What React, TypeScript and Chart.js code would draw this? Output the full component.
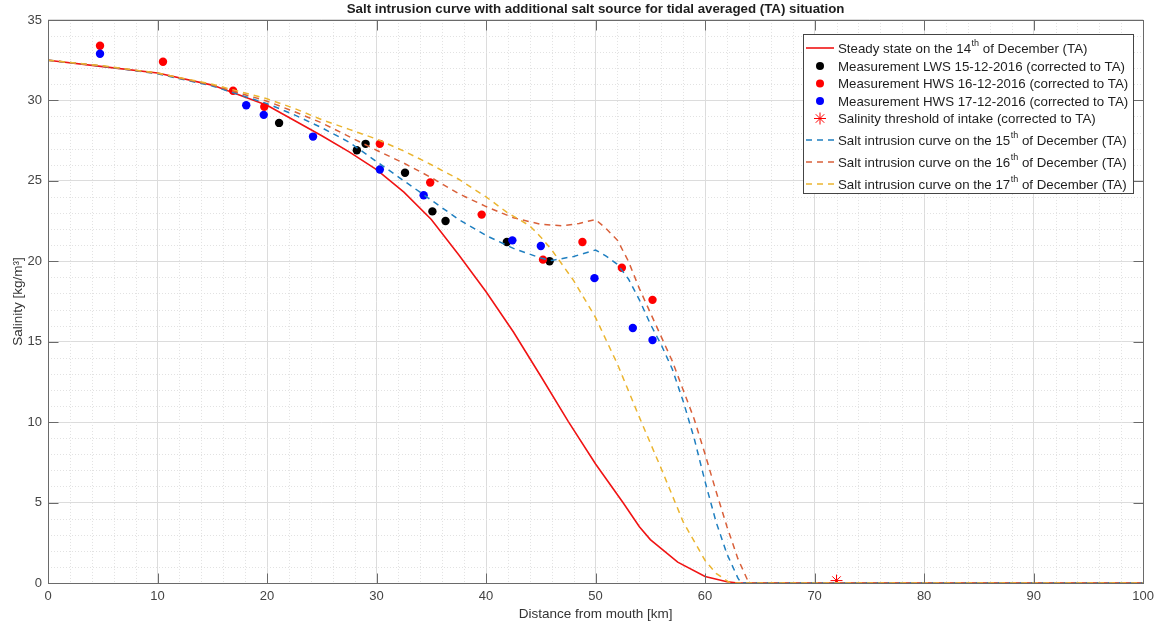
import React, { useEffect, useRef } from "react";
import { Chart, registerables } from "chart.js";

Chart.register(...registerables);

// ---------- data ----------
const steadyDist = [0, 5, 10, 15, 20, 22.5, 25, 27.5, 30, 32.5, 35, 37.5, 40, 42.5, 45, 47.5, 50, 52.5, 54, 55, 57.5, 60, 62, 63, 100];
const steadySal = [32.5, 32.1, 31.7, 30.95, 29.7, 28.75, 27.8, 26.8, 25.7, 24.3, 22.6, 20.4, 18.1, 15.6, 12.85, 10.05, 7.4, 5.0, 3.5, 2.7, 1.3, 0.4, 0.08, 0, 0];

const lws15Dist = [21.1, 28.2, 29.0, 32.6, 35.1, 36.3, 41.9, 45.8];
const lws15Sal = [28.6, 26.9, 27.3, 25.5, 23.1, 22.5, 21.2, 20.0];

const hws16Dist = [4.75, 10.5, 16.9, 19.75, 30.3, 34.9, 39.6, 45.2, 48.8, 52.4, 55.2];
const hws16Sal = [33.4, 32.4, 30.6, 29.6, 27.3, 24.9, 22.9, 20.1, 21.2, 19.6, 17.6];

const hws17Dist = [4.75, 18.1, 19.7, 24.2, 30.3, 34.3, 42.4, 45.0, 49.9, 53.4, 55.2];
const hws17Sal = [32.9, 29.7, 29.1, 27.75, 25.7, 24.1, 21.3, 20.95, 18.95, 15.85, 15.1];

const thresholdDist = [72];
const thresholdSal = [0.15];

const curve15Dist = [0, 5, 10, 15, 20, 22.5, 25, 27.5, 30, 32.5, 35, 37.5, 40, 42.5, 45, 46, 48, 50, 51, 52, 53, 54, 55, 56, 57, 58, 59, 60, 61, 62, 63, 63.3, 100];
const curve15Sal = [32.5, 32.12, 31.65, 30.9, 29.8, 29.1, 28.3, 27.4, 26.2, 25.0, 23.8, 22.6, 21.6, 20.8, 20.2, 20.05, 20.3, 20.7, 20.3, 19.8, 18.9, 17.6, 16.1, 14.8, 13.3, 11.3, 9.0, 6.3, 3.8, 1.8, 0.3, 0, 0];

const curve16Dist = [0, 5, 10, 15, 20, 22.5, 25, 27.5, 30, 32.5, 35, 37.5, 40, 42.5, 45, 47, 48.5, 50, 51, 52, 53, 54, 55, 56, 57, 58, 59, 60, 61, 62, 63, 64, 100];
const curve16Sal = [32.5, 32.13, 31.68, 30.95, 29.95, 29.3, 28.6, 27.75, 26.9, 26.1, 25.2, 24.2, 23.4, 22.7, 22.3, 22.2, 22.35, 22.6, 22.0, 21.3, 20.0, 18.3, 16.8, 15.3, 13.8, 12.0, 10.2, 8.0, 5.7, 3.5, 1.5, 0, 0];

const curve17Dist = [0, 5, 10, 15, 20, 22.5, 25, 27.5, 30, 32.5, 35, 37.5, 40, 42, 44, 45, 46, 48, 50, 52, 54, 56, 58, 60, 61, 62.3, 100];
const curve17Sal = [32.5, 32.15, 31.7, 31.0, 30.1, 29.5, 28.8, 28.2, 27.6, 26.85, 26.0, 25.1, 24.0, 23.0, 22.2, 21.5, 20.7, 18.8, 16.5, 13.6, 10.3, 7.1, 3.8, 1.4, 0.6, 0, 0];

const xTickValues = [0, 10, 20, 30, 40, 50, 60, 70, 80, 90, 100];
const yTickValues = [0, 5, 10, 15, 20, 25, 30, 35];

const seriesLabels = [
  "Steady state on the 14th of December (TA)",
  "Measurement LWS 15-12-2016 (corrected to TA)",
  "Measurement HWS 16-12-2016 (corrected to TA)",
  "Measurement HWS 17-12-2016 (corrected to TA)",
  "Salinity threshold of intake (corrected to TA)",
  "Salt intrusion curve on the 15th of December (TA)",
  "Salt intrusion curve on the 16th of December (TA)",
  "Salt intrusion curve on the 17th of December (TA)",
];

const titleText = "Salt intrusion curve with additional salt source for tidal averaged (TA) situation";
const xTitle = "Distance from mouth [km]";
const yTitle = "Salinity [kg/m\u00B3]";

// ---------- styles ----------
const FONT = "'Liberation Sans', Arial, Helvetica, sans-serif";
const C_RED = "#f01414";
const C_BLUE15 = "#1f7fc0";
const C_ORANGE16 = "#d9603a";
const C_YELLOW17 = "#ebb530";

const toXY = (xs: number[], ys: number[]) => xs.map((x, i) => ({ x, y: ys[i] }));

function splitSup(label: string): [string, string, string] {
  const m = label.match(/^(.*?\d+)(th)(\b.*)$/);
  if (!m) return [label, "", ""];
  return [m[1], m[2], m[3]];
}

const frameGridPlugin = {
  id: "frameGrid",
  beforeDatasetsDraw(chart: any) {
    const { ctx, chartArea: a, scales } = chart;
    const x = scales.x;
    const y = scales.y;
    ctx.save();
    ctx.strokeStyle = "#e2e2e2";
    ctx.lineWidth = 1;
    ctx.setLineDash([1, 2]);
    for (let v = 2; v < 100; v += 2) {
      if (v % 10 === 0) continue;
      const px = Math.round(x.getPixelForValue(v)) + 0.5;
      ctx.beginPath();
      ctx.moveTo(px, a.top);
      ctx.lineTo(px, a.bottom);
      ctx.stroke();
    }
    for (let v = 1; v < 35; v += 1) {
      if (v % 5 === 0) continue;
      const py = Math.round(y.getPixelForValue(v)) + 0.5;
      ctx.beginPath();
      ctx.moveTo(a.left, py);
      ctx.lineTo(a.right, py);
      ctx.stroke();
    }
    ctx.restore();
  },
  afterDatasetsDraw(chart: any) {
    const { ctx, chartArea: a, scales } = chart;
    const x = scales.x;
    const y = scales.y;
    const L = Math.round(a.left) + 0.5;
    const R = Math.round(a.right) + 0.5;
    const T = Math.round(a.top) + 0.5;
    const B = Math.round(a.bottom) + 0.5;
    ctx.save();
    ctx.strokeStyle = "#6a6a6a";
    ctx.lineWidth = 1;
    ctx.setLineDash([]);
    ctx.strokeRect(L, T, R - L, B - T);
    const tl = 10;
    ctx.beginPath();
    xTickValues.forEach((v) => {
      const px = Math.round(x.getPixelForValue(v)) + 0.5;
      ctx.moveTo(px, B);
      ctx.lineTo(px, B - tl);
      ctx.moveTo(px, T);
      ctx.lineTo(px, T + tl);
    });
    yTickValues.forEach((v) => {
      const py = Math.round(y.getPixelForValue(v)) + 0.5;
      ctx.moveTo(L, py);
      ctx.lineTo(L + tl, py);
      ctx.moveTo(R, py);
      ctx.lineTo(R - tl, py);
    });
    ctx.stroke();
    ctx.restore();
  },
};

const legendPlugin = {
  id: "matlabLegend",
  afterDraw(chart: any) {
    const { ctx } = chart;
    const x0 = 803;
    const y0 = 34;
    const w = 330;
    const h = 159;
    const rowY = [48, 66, 83.5, 101, 118.5, 140, 162, 184];
    ctx.save();
    ctx.fillStyle = "#ffffff";
    ctx.fillRect(x0, y0, w, h);
    ctx.strokeStyle = "#444444";
    ctx.lineWidth = 1;
    ctx.strokeRect(x0 + 0.5, y0 + 0.5, w, h);
    chart.data.datasets.forEach((ds: any, i: number) => {
      const cy = rowY[i];
      const sx0 = 806;
      const sx1 = 834;
      const mx = 820;
      ctx.save();
      if (ds.showLine) {
        ctx.strokeStyle = ds.borderColor;
        ctx.lineWidth = ds.borderWidth;
        ctx.setLineDash(ds.borderDash || []);
        ctx.beginPath();
        ctx.moveTo(sx0, cy);
        ctx.lineTo(sx1, cy);
        ctx.stroke();
      } else if (ds.pointStyle === "star") {
        ctx.strokeStyle = ds.pointBorderColor;
        ctx.lineWidth = 1;
        const r = 6;
        ctx.beginPath();
        for (let k = 0; k < 4; k++) {
          const ang = (k * Math.PI) / 4;
          ctx.moveTo(mx - r * Math.cos(ang), cy - r * Math.sin(ang));
          ctx.lineTo(mx + r * Math.cos(ang), cy + r * Math.sin(ang));
        }
        ctx.stroke();
      } else {
        ctx.fillStyle = ds.pointBackgroundColor;
        ctx.beginPath();
        ctx.arc(mx, cy, 4, 0, Math.PI * 2);
        ctx.fill();
      }
      ctx.restore();
      const [a, sup, b] = splitSup(ds.label);
      ctx.fillStyle = "#1e1e1e";
      ctx.textBaseline = "middle";
      ctx.textAlign = "left";
      ctx.font = `13.3px ${FONT}`;
      let tx = 838;
      ctx.fillText(a, tx, cy + 1);
      tx += ctx.measureText(a).width;
      if (sup) {
        ctx.font = `9px ${FONT}`;
        ctx.fillText(sup, tx + 0.5, cy - 4.5);
        tx += ctx.measureText(sup).width + 0.5;
        ctx.font = `13.3px ${FONT}`;
        ctx.fillText(b, tx, cy + 1);
      }
    });
    ctx.restore();
  },
};

export default function App() {
  const canvasRef = useRef<HTMLCanvasElement | null>(null);

  useEffect(() => {
    document.body.style.margin = "0";
    const canvas = canvasRef.current;
    if (!canvas) return;

    const chart = new Chart(canvas, {
      type: "scatter",
      data: {
        datasets: [
          {
            label: seriesLabels[0],
            data: toXY(steadyDist, steadySal),
            showLine: true,
            borderColor: C_RED,
            borderWidth: 1.6,
            pointRadius: 0,
            tension: 0,
            order: 10,
          },
          {
            label: seriesLabels[1],
            data: toXY(lws15Dist, lws15Sal),
            showLine: false,
            pointStyle: "circle",
            pointRadius: 4.2,
            pointBackgroundColor: "#000000",
            pointBorderWidth: 0,
            borderWidth: 0,
            order: 8,
          },
          {
            label: seriesLabels[2],
            data: toXY(hws16Dist, hws16Sal),
            showLine: false,
            pointStyle: "circle",
            pointRadius: 4.2,
            pointBackgroundColor: "#ff0000",
            pointBorderWidth: 0,
            borderWidth: 0,
            order: 7,
          },
          {
            label: seriesLabels[3],
            data: toXY(hws17Dist, hws17Sal),
            showLine: false,
            pointStyle: "circle",
            pointRadius: 4.2,
            pointBackgroundColor: "#0000ff",
            pointBorderWidth: 0,
            borderWidth: 0,
            order: 6,
          },
          {
            label: seriesLabels[4],
            data: toXY(thresholdDist, thresholdSal),
            showLine: false,
            pointStyle: "star",
            pointRadius: 6,
            pointBorderColor: "#ff0000",
            pointBackgroundColor: "#ff0000",
            pointBorderWidth: 1,
            order: 5,
          },
          {
            label: seriesLabels[5],
            data: toXY(curve15Dist, curve15Sal),
            showLine: true,
            borderColor: C_BLUE15,
            borderWidth: 1.5,
            borderDash: [6, 5],
            pointRadius: 0,
            tension: 0,
            order: 3,
          },
          {
            label: seriesLabels[6],
            data: toXY(curve16Dist, curve16Sal),
            showLine: true,
            borderColor: C_ORANGE16,
            borderWidth: 1.5,
            borderDash: [6, 5],
            pointRadius: 0,
            tension: 0,
            order: 2,
          },
          {
            label: seriesLabels[7],
            data: toXY(curve17Dist, curve17Sal),
            showLine: true,
            borderColor: C_YELLOW17,
            borderWidth: 1.5,
            borderDash: [6, 5],
            pointRadius: 0,
            tension: 0,
            order: 1,
          },
        ] as any,
      },
      options: {
        animation: false,
        responsive: false,
        devicePixelRatio: 1,
        events: [],
        layout: { padding: { left: 0, right: 15, top: 0, bottom: 0 } },
        plugins: {
          legend: { display: false },
          tooltip: { enabled: false },
          title: {
            display: true,
            text: titleText,
            fullSize: false,
            color: "#1e1e1e",
            font: { family: FONT, size: 13.3, weight: "bold" },
            padding: { top: 1, bottom: 3 },
          },
        },
        scales: {
          x: {
            type: "linear",
            min: 0,
            max: 100,
            afterBuildTicks: (scale: any) => {
              scale.ticks = xTickValues.map((v) => ({ value: v }));
            },
            afterFit: (scale: any) => {
              scale.height = 44;
            },
            grid: { color: "#dcdcdc", lineWidth: 1, drawTicks: false },
            border: { display: false },
            ticks: {
              color: "#444444",
              font: { family: FONT, size: 13 },
              padding: 6,
              maxRotation: 0,
              autoSkip: false,
            },
            title: {
              display: true,
              text: xTitle,
              color: "#333333",
              font: { family: FONT, size: 13.5 },
              padding: { top: 0, bottom: 5 },
            },
          },
          y: {
            type: "linear",
            min: 0,
            max: 35,
            afterBuildTicks: (scale: any) => {
              scale.ticks = yTickValues.map((v) => ({ value: v }));
            },
            afterFit: (scale: any) => {
              scale.width = 48;
            },
            grid: { color: "#dcdcdc", lineWidth: 1, drawTicks: false },
            border: { display: false },
            ticks: {
              color: "#444444",
              font: { family: FONT, size: 13 },
              padding: 6,
              autoSkip: false,
            },
            title: {
              display: true,
              text: yTitle,
              color: "#333333",
              font: { family: FONT, size: 13.5 },
              padding: { top: 10, bottom: 0 },
            },
          },
        },
      } as any,
      plugins: [frameGridPlugin, legendPlugin],
    });

    return () => {
      chart.destroy();
    };
  }, []);

  return (
    <div style={{ width: 1160, height: 627, position: "relative", background: "#ffffff" }}>
      <canvas ref={canvasRef} width={1160} height={627} style={{ display: "block", width: 1160, height: 627 }} />
    </div>
  );
}
